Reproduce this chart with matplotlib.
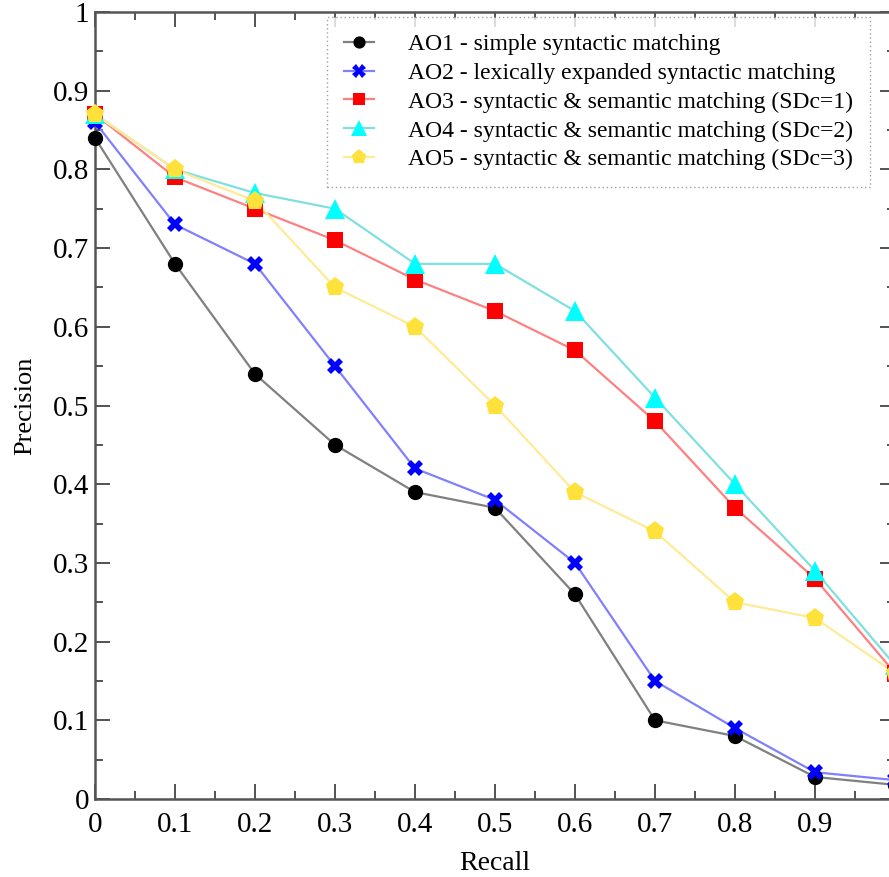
import matplotlib
matplotlib.use("Agg")
import matplotlib.pyplot as plt
from matplotlib.ticker import MultipleLocator

recall = [0, 0.1, 0.2, 0.3, 0.4, 0.5, 0.6, 0.7, 0.8, 0.9, 1.0]
ao1 = [0.84, 0.68, 0.54, 0.45, 0.39, 0.37, 0.26, 0.10, 0.08, 0.028, 0.018]
ao2 = [0.86, 0.73, 0.68, 0.55, 0.42, 0.38, 0.30, 0.15, 0.09, 0.034, 0.024]
ao3 = [0.87, 0.79, 0.75, 0.71, 0.66, 0.62, 0.57, 0.48, 0.37, 0.28, 0.16]
ao4 = [0.87, 0.80, 0.77, 0.75, 0.68, 0.68, 0.62, 0.51, 0.40, 0.29, 0.17]
ao5 = [0.87, 0.80, 0.76, 0.65, 0.60, 0.50, 0.39, 0.34, 0.25, 0.23, 0.16]
labels = ["AO1 - simple syntactic matching",
          "AO2 - lexically expanded syntactic matching",
          "AO3 - syntactic & semantic matching (SDc=1)",
          "AO4 - syntactic & semantic matching (SDc=2)",
          "AO5 - syntactic & semantic matching (SDc=3)"]
xticks = [0, 0.1, 0.2, 0.3, 0.4, 0.5, 0.6, 0.7, 0.8, 0.9, 1]
xticklabels = ["0", "0.1", "0.2", "0.3", "0.4", "0.5", "0.6", "0.7", "0.8", "0.9", "1"]
yticks = [0, 0.1, 0.2, 0.3, 0.4, 0.5, 0.6, 0.7, 0.8, 0.9, 1]
yticklabels = ["0", "0.1", "0.2", "0.3", "0.4", "0.5", "0.6", "0.7", "0.8", "0.9", "1"]

plt.rcParams['font.family'] = ['Liberation Serif', 'DejaVu Serif']

fig = plt.figure(figsize=(8.89, 8.77), dpi=100)
ax = fig.add_axes([95/889, 1 - 799/877, 800/889, 787/877])

series = [
    (ao1, 'o', '#000000', '#808080', 11),
    (ao2, 'X', '#0000ff', '#8080ff', 12),
    (ao3, 's', '#ff0000', '#ff8080', 11),
    (ao4, '^', '#00ffff', '#80e0e0', 14),
    (ao5, 'p', '#ffe13c', '#ffeb96', 14),
]
handles = []
for (vals, mk, mc, lc, ms), lab in zip(series, labels):
    ax.plot(recall, vals, '-', color=lc, lw=1.6, zorder=2, clip_on=False)
    ax.plot(recall, vals, linestyle='none', marker=mk, color=mc, ms=ms,
            markeredgewidth=0, zorder=3, clip_on=False)
    h, = ax.plot([], [], '-', color=lc, lw=1.6, marker=mk, markerfacecolor=mc,
                 markeredgewidth=0, ms=ms * 0.8)
    handles.append(h)

ax.set_xlim(0, 1)
ax.set_ylim(0, 1)
ax.set_xticks(xticks)
ax.set_xticklabels(xticklabels)
ax.set_yticks(yticks)
ax.set_yticklabels(yticklabels)
ax.xaxis.set_minor_locator(MultipleLocator(0.05))
ax.yaxis.set_minor_locator(MultipleLocator(0.05))
ax.tick_params(which='both', direction='in', top=True, right=True, labelsize=21,
               color='#444444', width=1.3)
ax.tick_params(which='major', length=11)
ax.tick_params(which='minor', length=6)
ax.tick_params(axis='x', which='major', pad=9)
ax.tick_params(axis='y', which='major', pad=4)
for s in ax.spines.values():
    s.set_linewidth(1.8)
    s.set_color('#555555')

ax.set_xlabel("Recall", fontsize=20, labelpad=10)
ax.set_ylabel("Precision", fontsize=19, labelpad=12)

leg = ax.legend(handles, labels, loc='upper left', bbox_to_anchor=(232/800, (799-17)/787),
                fontsize=17, frameon=True, fancybox=False, borderpad=0.7,
                labelspacing=0.31, handlelength=1.3, handletextpad=1.45,
                borderaxespad=0)
fr = leg.get_frame()
fr.set_linestyle((0, (1, 2)))
fr.set_edgecolor('#888888')
fr.set_linewidth(1.0)

fig.savefig("out.png", dpi=100)
